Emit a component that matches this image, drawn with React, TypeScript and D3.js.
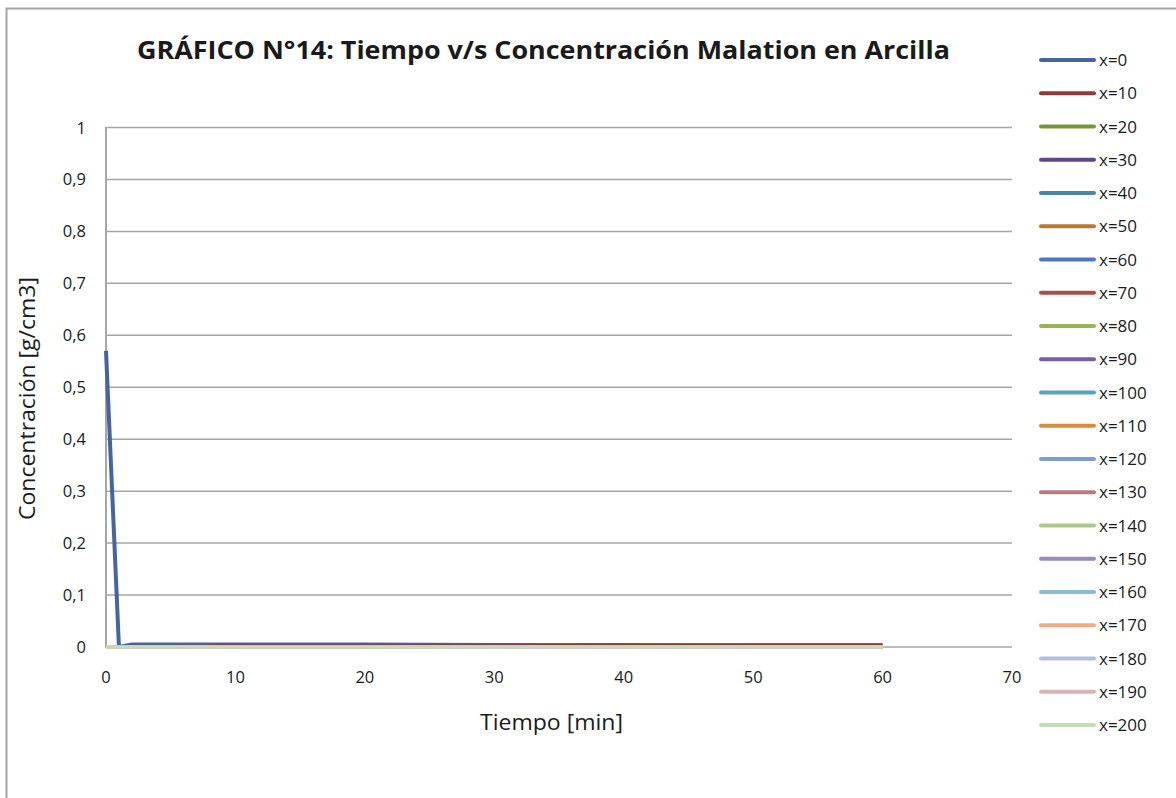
import React from "react";
import * as d3 from "d3";

const times = [0, 1, 2, 5, 10, 20, 30, 40, 50, 60];
const seriesNames = ["x=0","x=10","x=20","x=30","x=40","x=50","x=60","x=70","x=80","x=90","x=100","x=110","x=120","x=130","x=140","x=150","x=160","x=170","x=180","x=190","x=200"];
const seriesColors = ["#44659F","#8A3B3A","#7A9537","#5D4785","#4A87A0","#B97A30","#4F77BF","#A84D4B","#98B550","#7A5FA0","#5AA0C0","#DD8A3A","#7F9BCF","#B97A7C","#B1C78A","#9A8BBB","#8CBAD5","#EEAC80","#B4BFDE","#D6B3B6","#C9DABA"];
const s0 = [0.57, 0.0, 0.005, 0.005, 0.005, 0.005, 0.004, 0.004, 0.003, 0.003];
const s10 = [0.0, 0.0, 0.001, 0.001, 0.002, 0.002, 0.002, 0.003, 0.004, 0.004];
const sZero = [0, 0, 0, 0, 0, 0, 0, 0, 0, 0];
const seriesValues = [s0, s10, sZero, sZero, sZero, sZero, sZero, sZero, sZero, sZero, sZero, sZero, sZero, sZero, sZero, sZero, sZero, sZero, sZero, sZero, sZero];
const yTicks = [0, 0.1, 0.2, 0.3, 0.4, 0.5, 0.6, 0.7, 0.8, 0.9, 1];
const xTicks = [0, 10, 20, 30, 40, 50, 60, 70];

const FONT = "'Open Sans', Lato, sans-serif";

export default function App() {
  const W = 1176, H = 798;
  const x = d3.scaleLinear().domain([0, 70]).range([106, 1012]);
  const y = d3.scaleLinear().domain([0, 1]).range([647, 127.5]);
  const line = d3.line<number>().x((_, i) => x(times[i])).y((d) => y(d));
  const fmt = (v: number) => (v === 0 ? "0" : v === 1 ? "1" : d3.format(".1f")(v).replace(".", ","));
  return (
    <svg width={W} height={H} style={{ position: "absolute", left: 0, top: 0, background: "#fff" }}>
      <rect x={6.5} y={8.5} width={W + 10} height={H + 10} fill="#fff" stroke="#A6A6A6" strokeWidth={2} />
      <text x={543.5} y={59} textAnchor="middle" fontFamily={FONT} fontWeight="bold" fontSize={25} fill="#1a1a1a" textLength={813} lengthAdjust="spacingAndGlyphs">
        GRÁFICO N°14: Tiempo v/s Concentración Malation en Arcilla
      </text>
      {yTicks.map((t) => (
        <g key={t}>
          {t > 0 && <line x1={106} x2={1012} y1={y(t)} y2={y(t)} stroke="#A6A6A6" strokeWidth={1.5} />}
          <text x={86} y={y(t) + 6} textAnchor="end" fontFamily={FONT} fontSize={16.5} fill="#1a1a1a">{fmt(t)}</text>
        </g>
      ))}
      <line x1={106} x2={106} y1={127} y2={648} stroke="#A6A6A6" strokeWidth={2} />
      <line x1={105} x2={1012} y1={647} y2={647} stroke="#A6A6A6" strokeWidth={1.5} />
      {xTicks.map((t) => (
        <text key={t} x={x(t)} y={683} textAnchor="middle" fontFamily={FONT} fontSize={16.5} fill="#1a1a1a">{t}</text>
      ))}
      {seriesValues.map((vals, i) => (
        <path key={i} d={line(vals) || ""} fill="none" stroke={seriesColors[i]} strokeWidth={i === 0 ? 4 : 3.5} strokeLinejoin="round" />
      ))}
      <text x={551.5} y={730} textAnchor="middle" fontFamily={FONT} fontSize={21.5} fill="#1a1a1a" textLength={143} lengthAdjust="spacingAndGlyphs">Tiempo [min]</text>
      <text transform={`translate(35,398.5) rotate(-90)`} textAnchor="middle" fontFamily={FONT} fontSize={21.5} fill="#1a1a1a" textLength={243} lengthAdjust="spacingAndGlyphs">Concentración [g/cm3]</text>
      {seriesNames.map((n, i) => {
        const ly = 60 + i * 33.25;
        return (
          <g key={n}>
            <line x1={1041} x2={1094} y1={ly} y2={ly} stroke={seriesColors[i]} strokeWidth={4} strokeLinecap="round" />
            <text x={1099} y={ly + 6} fontFamily={FONT} fontSize={17} fill="#1a1a1a">{n}</text>
          </g>
        );
      })}
    </svg>
  );
}
